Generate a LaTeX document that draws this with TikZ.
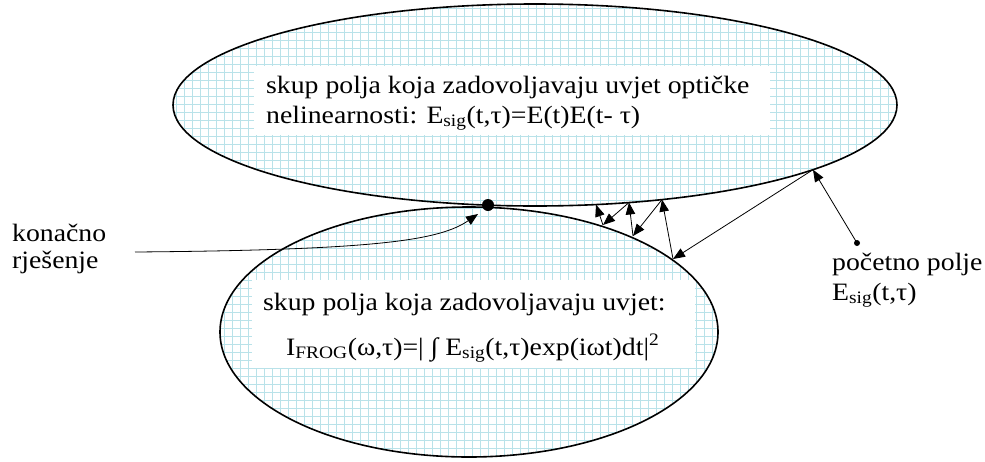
\documentclass[tikz,border=0pt]{standalone}
\usepackage{fontspec}
\setmainfont{Liberation Serif}[FakeStretch=1.11]
\usetikzlibrary{arrows.meta}
\definecolor{gridc}{RGB}{185,226,233}
\begin{document}
\begin{tikzpicture}[x=1pt,y=-1pt,
  conn/.style={line width=0.8pt,-{Triangle[length=12pt,width=9.5pt]}},
  lbl/.style={anchor=base west,inner sep=0pt,font=\fontsize{25}{30}\selectfont},
  ell/.style={line width=1.6pt},
  gridlines/.style={gridc,line width=1pt}]
\useasboundingbox (0,0) rectangle (985,461);
% grid fill of the two sets
\begin{scope}
  \clip (535,105) ellipse [x radius=362pt,y radius=101pt];
  \begin{scope}[shift={(0.5,0.5)}]
    \draw[gridlines] (0,0) grid[step=8pt] (984,460);
  \end{scope}
\end{scope}
\begin{scope}
  \clip (469,332) ellipse [x radius=249pt,y radius=125pt];
  \begin{scope}[shift={(0.5,0.5)}]
    \draw[gridlines] (0,0) grid[step=8pt] (984,460);
  \end{scope}
\end{scope}
% white text boxes
\fill[white] (254,66) rectangle (770,135);
\fill[white] (252,280) rectangle (695,368);
% outlines
\draw[ell] (535,105) ellipse [x radius=362pt,y radius=101pt];
\draw[ell] (469,332) ellipse [x radius=249pt,y radius=125pt];
% texts
\node[lbl] (t1) at (266,93) {skup polja koja zadovoljavaju uvjet optičke};
\node[lbl] (t2) at (266,123) {nelinearnosti: E\textsubscript{sig}(t,τ)=E(t)E(t- τ)};
\node[lbl] (b1) at (263,310) {skup polja koja zadovoljavaju uvjet:};
\node[lbl] (b2) at (286,355) {I\textsubscript{FROG}(ω,τ)=| ∫ E\textsubscript{sig}(t,τ)exp(iωt)dt|\textsuperscript{2}};
\node[lbl] (k1) at (12,241) {konačno};
\node[lbl] (k2) at (12,268) {rješenje};
\node[lbl] (p1) at (832,270) {početno polje};
\node[lbl] (p2) at (832,300) {E\textsubscript{sig}(t,τ)};
% points
\coordinate (start) at (857,243);
\coordinate (u1) at (813,169.7);
\coordinate (d1) at (673,259);
\coordinate (u2) at (662,199.6);
\coordinate (d2) at (633,236);
\coordinate (u3) at (629,202.5);
\coordinate (d3) at (603,225);
\coordinate (u4) at (596,204.6);
\coordinate (sol) at (488,205);
\coordinate (kstart) at (135,252);
\coordinate (ktip) at (478,214);
% iteration arrows
\fill (start) circle (3pt);
\draw[conn] (start) -- (u1);
\draw[conn] (u1) -- (d1);
\draw[conn] (d1) -- (u2);
\draw[conn] (u2) -- (d2);
\draw[conn] (d2) -- (u3);
\draw[conn] (u3) -- (d3);
\draw[conn] (d3) -- (u4);
% final solution
\fill (sol) circle (6pt);
\draw[conn] (kstart) .. controls (380,250) and (440,240) .. (ktip);
\end{tikzpicture}
\end{document}
